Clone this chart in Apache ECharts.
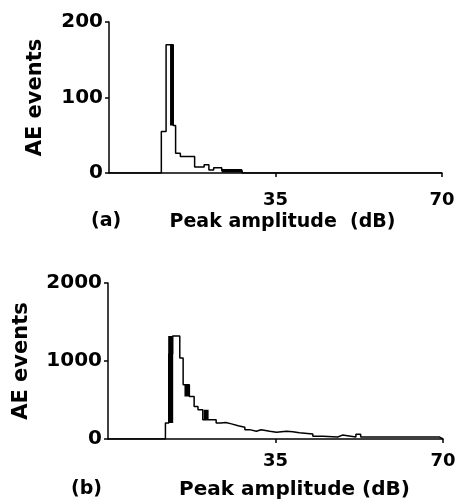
<!DOCTYPE html>
<html>
<head>
<meta charset="utf-8">
<script src="https://cdn.jsdelivr.net/npm/echarts@6/dist/echarts.min.js"></script>
<style>
  html, body { margin: 0; padding: 0; background: #fff; }
  #chart { width: 459px; height: 502px; }
</style>
</head>
<body>
<div id="chart"></div>
<script>
// (a) histogram: bin edges in dB and AE event counts per bin
var edgesA = [0, 11, 12, 13.5, 14, 15, 18, 20, 21, 22, 23.7, 28, 70]
var countsA = [0, 55, 170, 63, 26, 22, 8, 11, 4, 7, 3, 0]

// (b) histogram
var edgesB = [0, 12, 12.7, 13.5, 15, 15.7, 17, 18, 18.8, 19.8, 22.6, 23.6, 24.6, 25.8, 27.2, 28.6,
  29.6, 31, 32, 33.8, 35.2, 37.3, 38.6, 40, 42.8, 44.9, 48, 49, 51.8, 52.8, 69.3, 70]
var countsB = [0, 205, 1090, 1320, 1038, 696, 546, 418, 376, 247, 205, 212, 194, 170, 150, 120,
  100, 118, 100, 88, 98, 92, 80, 64, 34, 25, 50, 25, 60, 25, 0]

// heavily inked strokes in the print: [x1, y1, x2, y2]
var heavyA = [[13.2, 63, 13.2, 170], [23.7, 3, 28, 3]]
var heavyB = [[13.1, 205, 13.1, 1320], [16.5, 546, 16.5, 696], [20.5, 247, 20.5, 376]]

var xTicks = [35, 70]
var yTicksA = [0, 100, 200]
var yTicksB = [0, 1000, 2000]

var FONT = 'DejaVu Sans'

// turn edges + counts into outline points of a step histogram
function stepPoints(edges, counts) {
  var pts = []
  for (var i = 0; i < counts.length; i++) {
    pts.push([edges[i], counts[i]])
    pts.push([edges[i + 1], counts[i]])
  }
  return pts
}

function xAxisFor(idx, name, gap, pad, nameSize) {
  return {
    type: 'value', gridIndex: idx, min: 0, max: 70,
    axisLine: { show: true, lineStyle: { color: '#000', width: 1.5 } },
    axisTick: { show: true, length: 4, customValues: xTicks, lineStyle: { color: '#000', width: 1.5 } },
    axisLabel: { customValues: xTicks, margin: gap, color: '#000', fontFamily: FONT, fontWeight: 'bold', fontSize: 18 },
    splitLine: { show: false },
    name: name, nameLocation: 'middle', nameGap: pad[0],
    nameTextStyle: { color: '#000', fontFamily: FONT, fontWeight: 'bold', fontSize: nameSize, padding: [0, 0, 0, pad[1]] }
  }
}

function yAxisFor(idx, max, ticks, nameGap) {
  return {
    type: 'value', gridIndex: idx, min: 0, max: max,
    axisLine: { show: true, lineStyle: { color: '#000', width: 1.5 } },
    axisTick: { show: true, length: 4, customValues: ticks, lineStyle: { color: '#000', width: 1.5 } },
    axisLabel: {
      customValues: ticks, margin: 6, color: '#000', fontFamily: FONT, fontWeight: 'bold', fontSize: 20,
      formatter: function (v) { return String(v) }
    },
    splitLine: { show: false },
    name: 'AE events', nameLocation: 'middle', nameGap: nameGap, nameRotate: 90,
    nameTextStyle: { color: '#000', fontFamily: FONT, fontWeight: 'bold', fontSize: 21 }
  }
}

function heavySeries(segs, idx, w) {
  return segs.map(function (s) {
    return {
      type: 'line', xAxisIndex: idx, yAxisIndex: idx, symbol: 'none', silent: true,
      lineStyle: { color: '#000', width: w, cap: 'butt' },
      data: [[s[0], s[1]], [s[2], s[3]]]
    }
  })
}

var chart = echarts.init(document.getElementById('chart'))
chart.setOption({
  animation: false,
  grid: [
    { left: 109, top: 22, width: 333, height: 151 },
    { left: 108, top: 283, width: 335, height: 156 }
  ],
  xAxis: [
    xAxisFor(0, 'Peak amplitude  (dB)', 18, [40, 14], 19),
    xAxisFor(1, 'Peak amplitude (dB)', 13, [41, 38], 20)
  ],
  yAxis: [
    yAxisFor(0, 200, yTicksA, 63),
    yAxisFor(1, 2000, yTicksB, 76)
  ],
  graphic: [
    { type: 'text', left: 91, top: 212, style: { text: '(a)', fill: '#000', font: 'bold 19px "DejaVu Sans"' } },
    { type: 'text', left: 71, top: 480, style: { text: '(b)', fill: '#000', font: 'bold 19px "DejaVu Sans"' } }
  ],
  series: [
    {
      type: 'line', xAxisIndex: 0, yAxisIndex: 0, symbol: 'none',
      lineStyle: { color: '#000', width: 1.5 },
      data: stepPoints(edgesA, countsA)
    },
    {
      type: 'line', xAxisIndex: 1, yAxisIndex: 1, symbol: 'none',
      lineStyle: { color: '#000', width: 1.5 },
      data: stepPoints(edgesB, countsB)
    }
  ].concat(heavySeries(heavyA, 0, 3.5), heavySeries(heavyB, 1, 5))
})
</script>
</body>
</html>
